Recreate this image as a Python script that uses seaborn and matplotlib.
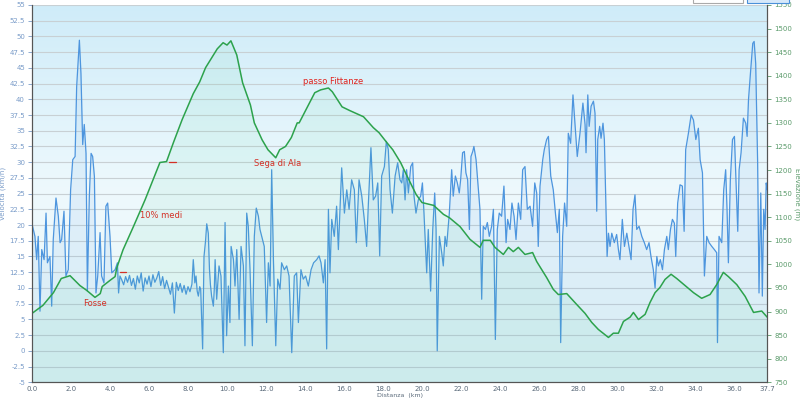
import numpy as np
import pandas as pd
import seaborn as sns
import matplotlib.pyplot as plt
from matplotlib.colors import LinearSegmentedColormap
from matplotlib.patches import Rectangle

# velocità (km/h) lungo il percorso
speed_km = [0.03, 0.15, 0.24, 0.32, 0.41, 0.50, 0.62, 0.72, 0.79, 0.92, 1.01, 1.09, 1.23, 1.35, 1.44, 1.52,
            1.64, 1.74, 1.86, 1.98, 2.09, 2.21, 2.29, 2.43, 2.51, 2.60, 2.68, 2.77, 2.84, 2.94, 3.03, 3.11,
            3.20, 3.28, 3.37, 3.49, 3.57, 3.69, 3.79, 3.88, 4.00, 4.09, 4.26, 4.38, 4.44, 4.51,
            4.6, 4.7, 4.8, 4.9, 5.0, 5.1, 5.2, 5.3, 5.4, 5.5, 5.6, 5.7, 5.8, 5.9, 6.0, 6.1, 6.2, 6.3, 6.4,
            6.5, 6.6, 6.7, 6.8, 6.9, 7.0, 7.1, 7.2, 7.3, 7.4, 7.5, 7.6, 7.7, 7.8, 7.9, 8.0, 8.1, 8.2,
            8.27, 8.35, 8.41, 8.47, 8.53, 8.60, 8.65, 8.75, 8.82, 8.90, 8.96, 9.04, 9.10, 9.15, 9.21, 9.30,
            9.35, 9.39, 9.47, 9.59, 9.69, 9.81, 9.90, 9.98, 10.07, 10.15, 10.21, 10.33, 10.41, 10.50,
            10.62, 10.72, 10.84, 10.92, 11.01, 11.09, 11.18, 11.30, 11.40, 11.50, 11.61, 11.69, 11.78,
            11.91, 12.03, 12.12, 12.21, 12.29, 12.38, 12.50, 12.60, 12.72, 12.80, 12.94, 13.06, 13.18,
            13.32, 13.45, 13.57, 13.66, 13.79, 13.91, 14.03, 14.17, 14.31, 14.44, 14.60, 14.72, 14.82,
            14.94, 15.03, 15.11, 15.20, 15.28, 15.37, 15.50, 15.62, 15.71, 15.88, 16.02, 16.14, 16.26,
            16.39, 16.53, 16.63, 16.77, 16.91, 17.04, 17.16, 17.25, 17.38, 17.50, 17.62, 17.73, 17.83,
            17.93, 18.07, 18.17, 18.27, 18.36, 18.48, 18.62, 18.75, 18.87, 18.96, 19.04, 19.13, 19.21,
            19.30, 19.42, 19.52, 19.59, 19.69, 19.81, 19.93, 20.02, 20.10, 20.24, 20.32, 20.44, 20.55,
            20.65, 20.72, 20.78, 20.89, 21.01, 21.09, 21.18, 21.26, 21.40, 21.52, 21.60, 21.71, 21.81,
            21.91, 21.98, 22.08, 22.17, 22.25, 22.34, 22.43, 22.51, 22.60, 22.66, 22.77, 22.89, 22.97,
            23.06, 23.14, 23.25, 23.35, 23.45, 23.57, 23.66, 23.76, 23.86, 23.96, 24.08, 24.20, 24.31,
            24.39, 24.51, 24.61, 24.72, 24.82, 24.94, 25.06, 25.16, 25.28, 25.40, 25.54, 25.67, 25.78,
            25.88, 25.96, 26.05, 26.19, 26.27, 26.39, 26.48, 26.60, 26.73, 26.84, 26.94, 27.04, 27.11,
            27.21, 27.31, 27.42, 27.50, 27.62, 27.74, 27.85, 27.96, 28.10, 28.25, 28.36, 28.41, 28.50,
            28.57, 28.67, 28.79, 28.87, 28.96, 29.01, 29.11, 29.18, 29.28, 29.35, 29.42, 29.49, 29.56,
            29.64, 29.73, 29.86, 29.98, 30.07, 30.15, 30.27, 30.38, 30.50, 30.58, 30.72, 30.82, 30.92,
            31.01, 31.13, 31.27, 31.40, 31.52, 31.64, 31.74, 31.86, 31.95, 32.04, 32.12, 32.22, 32.33,
            32.43, 32.55, 32.63, 32.74, 32.84, 32.94, 33.01, 33.11, 33.23, 33.35, 33.44, 33.52, 33.66,
            33.80, 33.92, 34.04, 34.17, 34.26, 34.38, 34.48, 34.60, 34.72, 34.86, 34.99, 35.11, 35.15,
            35.23, 35.37, 35.47, 35.57, 35.64, 35.71, 35.81, 35.92, 36.02, 36.10, 36.19, 36.26, 36.36,
            36.48, 36.60, 36.67, 36.74, 36.84, 36.96, 37.03, 37.11, 37.21, 37.28, 37.37, 37.45, 37.52,
            37.59, 37.65, 37.70]
speed_kmh = [19.8, 18.2, 14.5, 18.2, 6.3, 16.1, 14.5, 21.9, 14.0, 15.0, 7.1, 17.7, 24.3, 21.4, 17.2, 17.7,
             22.2, 11.9, 12.9, 25.6, 30.4, 30.9, 42.0, 49.4, 44.1, 32.8, 36.0, 31.4, 9.5, 24.6, 31.4, 30.9,
             27.7, 9.2, 11.9, 18.8, 11.9, 10.8, 23.0, 23.5, 18.2, 12.4, 12.9, 14.0, 9.2, 11.9,
             11.3, 10.5, 11.8, 10.9, 12.0, 10.4, 11.5, 9.8, 11.9, 10.8, 12.4, 9.5, 11.6, 10.6, 11.9, 10.2,
             12.1, 10.9, 11.6, 12.6, 10.4, 11.8, 9.9, 11.2, 10.1, 9.0, 10.8, 6.0, 10.9, 9.6, 10.7, 9.3,
             10.4, 9.0, 10.2, 9.4, 10.6,
             14.5, 10.8, 11.9, 9.5, 8.7, 10.2, 9.8, 0.3, 15.0, 17.5, 20.2, 18.7, 13.0, 10.5, 8.7, 7.1,
             10.0, 14.5, 8.2, 13.5, 11.9, -0.3, 20.4, 2.4, 10.3, 4.5, 16.6, 14.5, 10.3, 16.1,
             5.0, 16.6, 13.5, 0.8, 21.9, 19.8, 12.9, 0.8, 18.2, 22.7, 21.4, 19.3, 18.2,
             16.6, 4.5, 14.0, 10.3, 28.8, 14.5, 0.8, 11.4, 9.8, 14.0, 12.9, 13.5, 11.9,
             -0.3, 11.9, 12.4, 4.5, 12.9, 11.4, 11.9, 10.3, 12.9, 14.0, 14.5, 15.1, 14.0,
             10.8, 14.5, 0.3, 22.5, 12.4, 20.9, 18.2, 23.0, 16.1, 29.1, 21.9, 25.6, 22.5,
             27.2, 25.6, 17.2, 27.2, 24.6, 20.9, 16.6, 23.5, 32.3, 24.0, 24.6, 26.7, 15.1,
             27.8, 29.3, 33.3, 32.0, 25.6, 21.9, 27.8, 29.9, 27.2, 26.7, 28.8, 24.0, 28.8,
             25.1, 29.3, 29.9, 24.6, 21.9, 24.0, 24.6, 26.7, 21.9, 12.4, 19.3, 9.5, 19.3,
             25.1, 19.3, 0.0, 18.2, 15.6, 13.5, 18.2, 16.6, 21.9, 28.8, 24.6, 27.8, 26.7,
             25.1, 27.2, 31.5, 31.7, 28.3, 27.2, 19.3, 30.9, 31.7, 32.5, 30.4, 25.6, 22.5,
             8.2, 19.8, 19.3, 20.4, 18.2, 19.8, 22.5, 1.8, 19.3, 21.9, 21.4, 26.2, 17.2,
             20.9, 19.3, 23.5, 21.4, 17.7, 23.5, 20.9, 28.8, 29.3, 22.5, 23.0, 19.8, 26.7,
             25.1, 16.6, 26.2, 30.4, 32.0, 33.6, 34.1, 27.8, 25.6, 21.9, 18.8, 22.5, 1.3,
             18.2, 23.5, 19.8, 34.6, 33.0, 40.7, 35.7, 30.9, 34.6, 39.4, 36.0, 31.5, 40.7,
             35.7, 38.9, 39.7, 37.8, 22.2, 33.6, 35.7, 33.8, 36.2, 33.6, 24.6, 15.0, 18.7,
             16.6, 18.7, 17.2, 18.5, 16.1, 14.5, 20.9, 16.6, 18.7, 17.2, 14.5, 22.5, 24.8,
             19.3, 19.8, 18.2, 17.2, 16.1, 17.2, 15.0, 12.9, 10.0, 15.0, 13.5, 14.5, 12.9,
             16.1, 18.2, 16.1, 19.3, 20.9, 20.3, 15.0, 23.5, 26.4, 26.2, 19.0, 32.0, 34.6,
             37.5, 36.7, 33.6, 35.4, 30.4, 28.3, 11.9, 18.2, 17.2, 16.6, 16.1, 15.6, 1.3,
             18.2, 17.2, 25.6, 28.8, 22.5, 14.0, 27.2, 33.6, 34.1, 27.2, 19.0, 28.8, 31.5,
             37.0, 36.2, 34.1, 39.9, 44.1, 48.9, 49.2, 45.7, 29.9, 9.2, 25.1, 8.7, 22.5,
             19.3, 26.7, 25.6]

# altimetria (m)
elev_km = [0.0, 0.56, 1.1, 1.5, 1.95, 2.46, 2.8, 3.23, 3.5, 3.6, 4.0, 4.26, 4.35, 4.67, 5.2, 5.8,
           6.56, 6.9, 7.25, 7.7, 8.27, 8.6, 8.9, 9.5, 9.8, 10.0, 10.2, 10.5, 10.8, 11.2, 11.4, 11.8,
           12.1, 12.5, 12.7, 13.0, 13.3, 13.6, 13.7, 14.1, 14.5, 14.8, 15.2, 15.4, 15.9, 16.3, 17.0,
           17.5, 17.8, 18.2, 18.5, 18.9, 19.2, 19.7, 20.0, 20.6, 21.1, 21.4, 21.95, 22.46, 22.97,
           23.14, 23.5, 23.74, 24.17, 24.43, 24.68, 24.94, 25.28, 25.67, 25.88, 26.39, 26.73, 26.99,
           27.42, 27.93, 28.36, 28.7, 29.04, 29.56, 29.81, 30.07, 30.33, 30.67, 30.84, 31.1, 31.44,
           31.69, 31.95, 32.2, 32.46, 32.77, 33.06, 33.49, 33.92, 34.34, 34.77, 35.11, 35.45, 35.71,
           36.14, 36.57, 37.0, 37.42, 37.7]
elev_m = [896, 913, 940, 970, 976, 955, 945, 930, 938, 953, 966, 974, 993, 1031, 1080, 1137,
          1216, 1218, 1258, 1307, 1362, 1387, 1417, 1457, 1470, 1465, 1474, 1444, 1385, 1338, 1300, 1264,
          1243, 1226, 1243, 1250, 1269, 1300, 1300, 1332, 1364, 1370, 1374, 1366, 1334, 1326, 1313,
          1290, 1279, 1258, 1243, 1216, 1190, 1148, 1131, 1125, 1106, 1099, 1080, 1053, 1036,
          1051, 1051, 1036, 1021, 1036, 1027, 1036, 1021, 1025, 1006, 972, 947, 936,
          938, 915, 896, 877, 862, 845, 854, 854, 879, 888, 898, 883, 894,
          919, 940, 951, 968, 979, 970, 955, 940, 928, 936, 957, 983, 974,
          957, 932, 898, 901, 888]

notes = ["Fosse", "10% medi", "Sega di Ala", "passo Fittanze"]
notes_km = [3.25, 6.6, 12.6, 15.45]
notes_kmh = [7.5, 21.5, 29.8, 42.9]

x_ticks = list(np.arange(0, 37, 2.0)) + [37.7]
speed_ticks = np.arange(-5, 55.1, 2.5)
elev_ticks = np.arange(750, 1551, 50)

speed = pd.DataFrame({"km": speed_km, "kmh": speed_kmh})
elev = pd.DataFrame({"km": elev_km, "m": elev_m})

sns.set_theme(style="white")
plt.rcParams['font.family'] = ['DejaVu Sans']

fig, ax = plt.subplots(figsize=(8, 3.99), dpi=100)
fig.subplots_adjust(left=0.04, right=0.959, bottom=0.042, top=0.9875)

# sfondo sfumato
cmap_bg = LinearSegmentedColormap.from_list("bg", ["#cfecf9", "#eef9fd", "#e8f7f8"])
grad = np.linspace(0, 1, 256)[:, None]
ax.imshow(grad, aspect="auto", cmap=cmap_bg, extent=[0, 1, 0, 1], transform=ax.transAxes, zorder=-2)

ax.fill_between(speed["km"], speed["kmh"], -5, color="#5b9fe3", alpha=0.10, lw=0, zorder=1)
sns.lineplot(data=speed, x="km", y="kmh", ax=ax, color="#4d95de", lw=0.9, estimator=None, zorder=3)
for lab, xk, yk in zip(notes, notes_km, notes_kmh):
    ax.text(xk, yk, lab, color="#e0231d", fontsize=6, ha="center", va="center", zorder=6)
ax.plot([4.5, 4.8], [12.5, 12.5], color="#e0231d", lw=0.9, zorder=6)
ax.plot([7.0, 7.4], [30, 30], color="#e0231d", lw=0.9, zorder=6)

ax.set_xlim(0, 37.7)
ax.set_ylim(-5, 55)
ax.set_xticks(x_ticks)
ax.set_xticklabels([f"{t:.1f}" for t in x_ticks])
ax.set_yticks(speed_ticks)
ax.set_yticklabels([f"{t:g}" for t in speed_ticks])
ax.yaxis.grid(True, color="#c8d0d4", lw=0.8)
ax.set_axisbelow(True)
ax.tick_params(axis="y", labelsize=5, colors="#7a9cc9", length=3, width=0.6, pad=2)
ax.tick_params(axis="x", labelsize=5, colors="#5a6a7a", length=2, width=0.6, pad=1)
ax.set_xlabel("Distanza  (km)", fontsize=4.5, color="#5a6a7a")
ax.xaxis.set_label_coords(0.5, -0.028)
ax.set_ylabel("Velocità (km/h)", fontsize=5, color="#7a9cc9", labelpad=2)

ax2 = ax.twinx()
ax2.fill_between(elev["km"], elev["m"], 750, color="#3fd08a", alpha=0.08, lw=0)
sns.lineplot(data=elev, x="km", y="m", ax=ax2, color="#2ca24c", lw=1.1, estimator=None)
ax2.set_ylim(750, 1550)
ax2.set_yticks(elev_ticks)
ax2.set_yticklabels([str(t) for t in elev_ticks])
ax2.tick_params(axis="y", labelsize=5, colors="#5a9a6a", length=3, width=0.6, pad=2)
ax2.set_ylabel("Elevazione (m)", fontsize=5, color="#5a9a6a", rotation=270, labelpad=6)
ax2.set_xlabel("")

for a in (ax, ax2):
    a.spines["top"].set_visible(False)
    for s in ("left", "right", "bottom"):
        a.spines[s].set_color("#555555")
        a.spines[s].set_linewidth(0.8)

# pulsanti in alto a destra
fig.add_artist(Rectangle((693 / 800, 396 / 399), 50 / 800, 5 / 399, transform=fig.transFigure,
                         facecolor="white", edgecolor="#aaaaaa", lw=0.8))
fig.add_artist(Rectangle((747 / 800, 396 / 399), 42 / 800, 5 / 399, transform=fig.transFigure,
                         facecolor="#d6e8fa", edgecolor="#4a90d9", lw=0.8))

fig.savefig("out.png", dpi=100)
